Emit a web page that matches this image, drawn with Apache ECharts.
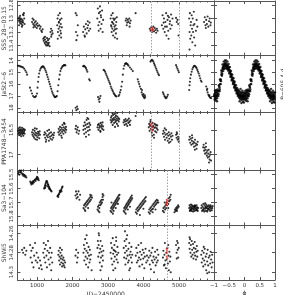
<!DOCTYPE html>
<html><head><meta charset="utf-8">
<script src="https://cdn.jsdelivr.net/npm/echarts@6/dist/echarts.min.js"></script>
<style>html,body{margin:0;padding:0;background:#fff}#c{width:283px;height:295px}</style>
</head><body><div id="c"></div>
<script>
const panelNames = ["SSS_28\u221203.15", "JaSt2\u22126", "PPA1748\u22123454", "Sa3\u2212104", "ShWi5"];
const periodLabel = "P=605.4 d";
const xName = "JD\u22122450000";
const phaseName = "\u03d5";
const redLinesA = [4234, 5000];
const redLinesB = [4660];

const p1Time = [[470,13.0],[485,13.03],[500,12.98],[510,13.05],[520,13.02],[530,13.07],[540,13.0],[550,13.04],[560,13.08],[570,13.01],[580,13.05],[590,13.1],[600,13.03],[610,13.06],[620,12.95],[630,12.92],[640,13.0],[650,13.08],[495,13.1],[525,12.96],[575,13.12],[605,12.94],
[860,13.05],[875,13.0],[890,13.08],[905,13.02],[920,13.1],[935,13.06],[950,13.12],[965,13.04],[980,13.09],[995,13.14],[1010,13.07],[1025,13.11],[900,13.13],
[1060,13.1],[1080,13.15],[1100,13.12],[1120,13.18],[1140,13.2],[1160,13.16],
[1175,13.3],[1190,13.33],[1200,13.28],[1215,13.36],[1225,13.31],[1240,13.38],[1250,13.34],[1260,13.4],[1275,13.35],[1285,13.29],[1300,13.37],[1310,13.32],[1320,13.39],[1335,13.36],[1345,13.3],[1355,13.41],[1230,13.27],[1290,13.4],
[1380,13.2],[1395,13.15],[1410,13.24],[1425,13.18],[1440,13.22],[1400,13.27],
[1570,13.1],[1580,13.0],[1590,13.2],[1600,12.95],[1610,13.15],[1620,13.05],[1630,13.25],[1640,13.12],[1650,13.02],[1660,13.18],[1670,13.08],[1680,13.28],[1690,13.0],[1700,13.13],[1585,13.3],[1645,12.92],[1675,13.22],[1615,13.06],
[2090,12.92],[2120,12.95],[2100,13.2],[2140,13.25],[2110,13.32],[2150,13.1],
[2300,13.2],[2320,13.12],[2340,13.25],[2360,13.16],[2380,13.08],[2400,13.22],[2420,13.14],[2440,13.1],[2460,13.18],[2480,13.06],[2500,13.15],[2350,13.27],[2430,13.04],
[2700,13.0],[2715,12.85],[2730,13.1],[2745,12.92],[2760,13.05],[2775,12.82],[2790,13.15],[2805,12.98],[2820,13.08],[2835,12.88],[2850,13.2],[2865,13.02],[2740,13.18],[2800,12.95],[2780,12.9],
[3075,13.0],[3085,13.1],[3095,12.95],[3105,13.2],[3115,13.05],[3125,13.15],[3135,12.92],[3145,13.25],[3155,13.08],[3165,13.18],[3175,13.02],[3185,13.12],[3195,13.28],[3205,13.0],[3215,13.1],[3225,13.22],[3235,13.05],[3245,13.15],[3260,13.3],[3100,13.12],[3150,13.0],[3200,13.16],[3250,12.98],[3130,13.06],
[3500,13.03],[3520,13.0],[3540,13.06],[3560,13.02],[3580,13.05],[3600,13.0],[3620,13.07],[3640,13.03],[3530,13.1],[3610,13.12],
[3780,12.92],
[4180,13.15],[4200,13.18],[4220,13.13],[4240,13.2],[4260,13.16],[4280,13.12],[4300,13.19],[4320,13.14],[4340,13.17],[4360,13.21],[4380,13.15],[4400,13.18],
[4520,13.1],[4540,12.95],[4560,13.15],[4580,13.0],[4600,13.2],[4620,13.05],[4640,12.92],[4660,13.12],[4680,13.02],[4700,13.18],[4720,12.98],[4740,13.08],[4760,13.15],[4780,12.94],[4800,13.1],[4820,13.0],[4570,13.06],[4650,13.25],[4710,13.3],[4610,13.12],[4750,13.04],[4690,12.96],
[4920,12.99],[4940,13.05],[4960,13.02],[4980,13.08],[4990,13.25],
[5290,13.0],[5300,13.2],[5310,12.92],[5320,13.3],[5330,13.1],[5340,13.05],[5350,13.25],[5360,12.95],[5370,13.15],[5380,13.35],[5390,13.0],[5400,13.2],[5410,13.1],[5420,12.9],[5430,13.28],[5440,13.08],[5460,13.4],[5480,13.18],[5500,13.02],[5520,13.12],[5300,13.46],
[5710,13.05],[5730,12.98],[5750,13.1],[5770,13.02],[5790,13.08],[5810,12.97],[5830,13.12],[5850,13.04],[5870,13.0],[5890,13.1],[5900,13.06],[5760,13.14]];
const p1Red = [[4215,13.16],[4232,13.18],[4248,13.14],[4262,13.17]];

const p2Time = [[461,14.45],[490,14.45],[520,14.5],[550,14.52],[580,14.55],[610,14.6],[640,14.7],[670,14.85],[700,15.0],[720,15.2],
[800,16.3],[830,16.55],[860,16.8],[890,17.0],[920,17.1],[950,17.1],[975,17.0],[1000,16.8],[1015,16.3],[1030,15.8],[1045,15.4],[1060,15.1],[1080,14.85],[1100,14.7],[1120,14.6],[1140,14.55],[1160,14.5],[1180,14.52],[1200,14.6],[1220,14.7],[1240,14.85],[1260,15.0],[1280,15.2],[1300,15.4],[1320,15.6],[1340,15.8],[1360,16.0],[1380,16.2],[1400,16.4],[1420,16.6],[1440,16.75],[1460,16.9],[1480,17.0],[1500,17.1],[1520,17.1],[1540,17.05],
[1560,17.0],[1580,16.6],[1600,16.1],[1620,15.6],[1640,15.2],[1660,14.9],[1680,14.7],[1700,14.6],[1720,14.5],[1740,14.45],[1760,14.4],[1780,14.4],[1800,14.42],
[2090,18.0],[2110,18.2],[2130,17.9],[2150,18.1],
[2300,14.5],[2320,14.45],[2340,14.5],[2360,14.55],[2380,14.65],[2400,14.8],[2420,14.95],[2470,15.6],[2490,15.7],
[2720,17.1],[2740,17.3],[2760,17.5],[2770,17.2],[2790,17.0],
[2880,14.8],[2900,14.85],[2920,14.95],[2940,15.1],[2960,15.25],[2980,15.4],[3000,15.55],[3020,15.7],[3040,15.85],[3060,16.0],[3080,16.2],[3100,16.35],[3120,16.5],[3140,16.6],[3160,16.75],[3180,16.85],[3200,16.95],[3220,17.0],[3240,17.05],
[3300,17.0],[3320,16.9],[3340,16.7],[3360,16.5],[3380,16.2],[3400,15.8],[3420,15.2],[3440,14.7],[3460,14.45],[3480,14.3],[3500,14.25],[3520,14.25],[3540,14.3],[3560,14.35],[3580,14.45],[3620,14.6],[3660,14.75],[3700,14.9],
[3840,15.6],[3860,15.8],[3880,16.0],[3900,16.2],
[3930,16.4],[3950,16.7],[3970,16.9],[3990,17.0],[4010,17.1],[4030,17.2],[4050,17.1],[3960,16.5],[4000,16.85],[4040,16.95],
[4200,14.1],[4220,14.0],[4240,13.95],[4260,14.0],[4280,14.1],[4300,14.25],[4320,14.4],[4340,14.55],[4360,14.7],[4380,14.85],[4400,15.0],[4420,15.15],[4440,15.25],
[4550,16.7],[4570,16.85],[4590,17.0],[4610,17.1],[4630,17.2],[4650,17.15],[4670,17.05],[4690,16.9],
[4920,14.4],[4940,14.55],[4960,14.7],[4980,14.85],[5000,15.0],
[5290,16.5],[5300,16.1],[5310,15.8],[5320,15.5],[5340,15.2],[5360,14.95],[5380,14.75],[5400,14.6],[5420,14.5],[5440,14.45],[5460,14.5],[5480,14.55],[5500,14.65],[5520,14.8],[5540,14.95],[5560,15.1],[5580,15.3],[5600,15.5],[5620,15.7],[5640,15.8],
[5770,16.2],[5790,16.5],[5810,16.7],[5830,16.9],[5850,17.0],[5870,17.1],[5890,17.15],[5910,17.2],[5800,16.4],[5860,16.95]];

// one folded cycle (phase -1..0); drawn twice (phase and phase+1)
const p2PhaseCycle = [[-1.0,17.0],[-0.97,17.0],[-0.94,16.95],[-0.91,16.9],[-0.88,16.8],[-0.85,16.6],[-0.82,16.3],[-0.8,16.0],[-0.78,15.6],[-0.76,15.2],[-0.74,14.9],[-0.72,14.7],[-0.7,14.55],[-0.68,14.45],[-0.66,14.4],[-0.64,14.35],[-0.62,14.35],[-0.6,14.4],[-0.58,14.45],[-0.56,14.5],[-0.54,14.6],[-0.52,14.7],[-0.5,14.8],[-0.48,14.95],[-0.46,15.1],[-0.44,15.25],[-0.42,15.4],[-0.4,15.55],[-0.38,15.7],[-0.36,15.85],[-0.34,16.0],[-0.32,16.15],[-0.3,16.3],[-0.28,16.45],[-0.26,16.55],[-0.24,16.65],[-0.22,16.75],[-0.2,16.85],[-0.18,16.9],[-0.16,16.95],[-0.14,17.0],[-0.12,17.0],[-0.1,17.05],[-0.08,17.05],[-0.06,17.05],[-0.04,17.0],[-0.02,17.0],
[-0.99,16.85],[-0.95,16.8],[-0.91,16.7],[-0.87,16.55],[-0.83,16.2],[-0.79,15.7],[-0.75,15.05],[-0.71,14.6],[-0.67,14.3],[-0.63,14.2],[-0.59,14.25],[-0.55,14.4],[-0.51,14.6],[-0.47,14.85],[-0.43,15.15],[-0.39,15.45],[-0.35,15.75],[-0.31,16.05],[-0.27,16.3],[-0.23,16.5],[-0.19,16.65],[-0.15,16.8],[-0.11,16.85],[-0.07,16.9],[-0.03,16.85],
[-0.97,17.15],[-0.93,17.1],[-0.89,17.0],[-0.85,16.85],[-0.81,16.45],[-0.77,15.75],[-0.73,15.15],[-0.69,14.75],[-0.65,14.55],[-0.61,14.5],[-0.57,14.6],[-0.53,14.75],[-0.49,15.0],[-0.45,15.3],[-0.41,15.6],[-0.37,15.9],[-0.33,16.2],[-0.29,16.45],[-0.25,16.7],[-0.21,16.9],[-0.17,17.05],[-0.13,17.15],[-0.09,17.2],[-0.05,17.2],[-0.01,17.15],
[-0.96,16.7],[-0.92,16.6],[-0.88,16.45],[-0.84,16.1],[-0.8,15.6],[-0.76,14.85],[-0.72,14.35],[-0.68,14.1],[-0.64,14.0],[-0.6,14.0],[-0.56,14.1],[-0.52,14.3],[-0.48,14.55],[-0.44,14.9],[-0.4,15.2],[-0.36,15.5],[-0.32,15.8],[-0.28,16.1],[-0.24,16.35],[-0.2,16.5],[-0.16,16.6],[-0.12,16.7],[-0.08,16.72],[-0.04,16.7],[0.0,16.7],
[-0.98,17.3],[-0.94,17.25],[-0.9,17.2],[-0.86,17.0],[-0.82,16.6],[-0.78,16.0],[-0.74,15.3],[-0.7,14.9],[-0.66,14.7],[-0.62,14.65],[-0.58,14.7],[-0.54,14.85],[-0.5,15.1],[-0.46,15.4],[-0.42,15.7],[-0.38,16.0],[-0.34,16.3],[-0.3,16.55],[-0.26,16.8],[-0.22,17.0],[-0.18,17.15],[-0.14,17.25],[-0.1,17.35],[-0.06,17.3],[-0.02,17.3],
[-0.1,17.6],[-0.05,17.5],[-0.9,17.45],[-0.93,16.5],[-0.13,16.4],[-0.95,17.4],[-0.16,17.45],[-0.07,16.55],[-0.97,16.55],[-0.02,17.55]];

const p3Time = [[465,16.52],[475,16.58],[482,16.47],[490,16.55],[497,16.61],[503,16.5],[510,16.56],[518,16.45],[525,16.6],[532,16.53],[540,16.49],[548,16.57],[555,16.63],[562,16.51],[570,16.55],[578,16.46],[585,16.59],[592,16.53],[600,16.5],[608,16.57],[615,16.62],[622,16.48],[630,16.55],[640,16.52],[650,16.58],[658,16.5],
[860,16.55],[872,16.6],[884,16.5],[896,16.63],[908,16.57],[920,16.66],[932,16.52],[944,16.6],[956,16.69],[968,16.56],[980,16.62],[992,16.48],[1004,16.58],[1016,16.65],[1028,16.54],[1040,16.61],[1052,16.57],[1064,16.67],[1076,16.53],[1085,16.6],[940,16.47],[1000,16.7],
[1200,16.6],[1215,16.55],[1230,16.66],[1245,16.58],[1260,16.7],[1275,16.62],[1290,16.52],[1305,16.65],[1320,16.6],[1335,16.72],[1350,16.57],[1365,16.64],[1380,16.68],[1395,16.55],[1410,16.62],[1425,16.7],[1440,16.59],[1455,16.66],[1470,16.61],[1482,16.56],[1250,16.74],[1340,16.5],
[1600,16.55],[1612,16.48],[1624,16.6],[1636,16.52],[1648,16.44],[1660,16.57],[1672,16.5],[1684,16.62],[1696,16.46],[1708,16.54],[1720,16.4],[1732,16.5],[1744,16.58],[1756,16.45],[1768,16.52],[1780,16.38],[1792,16.48],[1804,16.55],[1816,16.44],[1823,16.5],[1700,16.66],[1760,16.36],
[2085,16.48],[2100,16.42],[2115,16.55],[2130,16.5],[2150,16.45],[2170,16.58],[2190,16.52],
[2305,16.5],[2318,16.42],[2331,16.58],[2344,16.35],[2357,16.48],[2370,16.4],[2383,16.55],[2396,16.3],[2409,16.45],[2422,16.38],[2435,16.52],[2448,16.28],[2461,16.44],[2474,16.36],[2487,16.5],[2500,16.4],[2380,16.64],[2420,16.26],[2460,16.6],
[2705,16.45],[2718,16.4],[2731,16.5],[2744,16.38],[2757,16.46],[2770,16.42],[2783,16.52],[2796,16.36],[2809,16.44],[2822,16.4],[2835,16.48],[2848,16.35],[2861,16.43],[2873,16.5],[2790,16.54],
[3075,16.3],[3085,16.25],[3095,16.35],[3105,16.22],[3115,16.32],[3125,16.28],[3135,16.4],[3145,16.2],[3155,16.3],[3165,16.26],[3175,16.36],[3185,16.18],[3195,16.29],[3205,16.24],[3215,16.34],[3225,16.21],[3235,16.31],[3245,16.27],[3255,16.38],[3265,16.23],[3275,16.3],[3285,16.42],[3295,16.26],[3305,16.33],[3320,16.28],[3130,16.17],[3200,16.44],[3260,16.16],
[3440,16.35],[3455,16.3],[3470,16.4],[3485,16.33],[3500,16.28],[3515,16.38],[3530,16.32],[3545,16.42],[3560,16.3],[3575,16.36],[3590,16.27],[3605,16.34],[3620,16.4],[3635,16.31],
[3780,16.22],
[4150,16.45],[4162,16.38],[4174,16.52],[4186,16.42],[4198,16.34],[4210,16.48],[4222,16.4],[4234,16.56],[4246,16.44],[4258,16.36],[4270,16.5],[4282,16.42],[4294,16.6],[4306,16.46],[4318,16.38],[4330,16.53],[4342,16.45],[4354,16.4],[4366,16.55],[4378,16.47],[4390,16.41],[4402,16.5],[4200,16.3],[4300,16.66],[4250,16.62],
[4550,16.58],[4565,16.52],[4580,16.64],[4595,16.56],[4610,16.7],[4625,16.6],[4640,16.5],[4655,16.66],[4670,16.58],[4685,16.72],[4700,16.62],[4715,16.55],[4730,16.68],[4745,16.6],[4760,16.74],[4775,16.64],[4790,16.57],[4805,16.7],[4820,16.62],[4600,16.47],[4720,16.76],
[4920,16.6],[4935,16.66],[4950,16.58],[4965,16.7],[4980,16.64],[4995,16.74],[4940,16.55],[4990,16.68],
[5290,16.7],[5305,16.64],[5320,16.76],[5335,16.68],[5350,16.8],[5365,16.72],[5380,16.66],[5395,16.78],[5410,16.74],[5425,16.84],[5440,16.76],[5455,16.7],[5470,16.82],[5485,16.78],[5500,16.88],[5515,16.8],[5530,16.74],[5370,16.61],[5450,16.9],
[5685,16.85],[5698,16.8],[5711,16.92],[5724,16.86],[5737,16.98],[5750,16.9],[5763,16.84],[5776,16.96],[5789,17.02],[5802,16.92],[5815,17.06],[5828,16.98],[5841,16.9],[5854,17.04],[5867,17.1],[5880,17.0],[5893,16.95],[5906,17.12],[5760,16.77],[5850,17.16]];
const p3Red = [[4215,16.4],[4225,16.48],[4238,16.44],[4245,16.52],[4230,16.37]];

const p4Time = [[470,15.49],[485,15.48],[500,15.5],[515,15.47],[530,15.485],[545,15.48],[560,15.47],[575,15.49],[590,15.5],[605,15.495],[620,15.51],[635,15.5],[650,15.505],[665,15.515],[680,15.51],[700,15.52],
[810,15.55],[825,15.56],[840,15.57],[855,15.555],[870,15.56],[885,15.55],[900,15.545],[915,15.555],[930,15.54],[945,15.535],[960,15.545],[975,15.53],[990,15.525],[1005,15.535],[1020,15.52],[1035,15.53],[1050,15.54],[880,15.565],[1000,15.515],
[1200,15.6],[1212,15.59],[1224,15.58],[1236,15.57],[1248,15.56],[1260,15.55],[1272,15.545],[1284,15.55],[1296,15.56],[1308,15.57],[1320,15.575],[1332,15.585],[1344,15.59],[1356,15.6],[1368,15.605],[1380,15.61],[1395,15.615],[1410,15.62],[1250,15.58],[1300,15.585],[1340,15.6],[1230,15.595],
[1575,15.655],[1590,15.65],[1605,15.645],[1620,15.64],[1635,15.63],[1650,15.625],[1665,15.615],[1680,15.61],[1695,15.6],[1710,15.59],[1720,15.585],[1600,15.66],[1640,15.615],[1690,15.62],
[2085,15.65],[2100,15.62],[2115,15.67],[2130,15.64],[2150,15.66],[2170,15.62],[2195,15.68],[2215,15.645],
[2310,15.74],[2325,15.72],[2340,15.75],[2355,15.71],[2370,15.73],[2385,15.7],[2400,15.72],[2415,15.69],[2430,15.71],[2445,15.68],[2460,15.7],[2475,15.67],[2490,15.69],[2505,15.66],[2520,15.68],[2535,15.65],[2550,15.665],[2360,15.76],[2440,15.74],[2500,15.645],
[2705,15.75],[2718,15.73],[2731,15.76],[2744,15.72],[2757,15.74],[2770,15.7],[2783,15.72],[2796,15.69],[2809,15.71],[2822,15.68],[2835,15.7],[2848,15.66],[2861,15.68],[2873,15.65],[2760,15.77],[2850,15.64],
[3075,15.76],[3087,15.74],[3099,15.77],[3111,15.73],[3123,15.75],[3135,15.72],[3147,15.74],[3159,15.71],[3171,15.73],[3183,15.7],[3195,15.72],[3207,15.69],[3219,15.71],[3231,15.68],[3243,15.7],[3255,15.67],[3267,15.69],[3279,15.66],[3291,15.68],[3303,15.65],[3315,15.67],[3327,15.645],[3100,15.7],[3160,15.76],[3220,15.74],[3280,15.71],[3140,15.78],
[3445,15.76],[3457,15.74],[3469,15.77],[3481,15.73],[3493,15.75],[3505,15.72],[3517,15.74],[3529,15.71],[3541,15.73],[3553,15.7],[3565,15.72],[3577,15.69],[3589,15.71],[3601,15.68],[3613,15.7],[3625,15.67],[3637,15.69],[3649,15.66],[3661,15.68],[3673,15.65],[3685,15.67],[3500,15.78],[3560,15.75],[3620,15.73],
[3785,15.77],[3800,15.75],[3815,15.78],[3830,15.74],[3845,15.76],[3860,15.73],[3875,15.75],[3890,15.72],[3905,15.74],[3920,15.71],[3935,15.73],[3950,15.7],[3965,15.72],[3980,15.69],[3995,15.71],[4010,15.68],[4025,15.7],[4040,15.67],[4055,15.69],[4070,15.66],[3900,15.79],[4000,15.745],
[4150,15.77],[4165,15.75],[4180,15.78],[4195,15.74],[4210,15.76],[4225,15.73],[4240,15.75],[4255,15.72],[4270,15.745],[4285,15.71],[4300,15.73],[4315,15.7],[4330,15.72],[4345,15.69],[4360,15.71],[4375,15.68],[4390,15.7],[4405,15.685],[4420,15.7],[4260,15.77],[4340,15.75],
[4550,15.76],[4565,15.74],[4580,15.77],[4595,15.73],[4610,15.75],[4625,15.72],[4640,15.74],[4655,15.7],[4670,15.72],[4685,15.69],[4700,15.71],[4715,15.67],[4730,15.69],[4745,15.66],[4760,15.68],[4770,15.645],[4600,15.7],[4700,15.74],
[4875,15.77],[4890,15.75],[4905,15.76],[4920,15.74],[4935,15.75],[4950,15.73],[4965,15.74],[4980,15.72],[4995,15.73],[4945,15.76],
[5290,15.74],[5300,15.72],[5310,15.76],[5320,15.73],[5330,15.75],[5340,15.715],[5350,15.74],[5360,15.76],[5370,15.72],[5380,15.745],[5390,15.73],[5400,15.765],[5410,15.725],[5420,15.75],[5430,15.735],[5440,15.76],[5450,15.72],[5460,15.745],[5470,15.73],[5480,15.755],[5490,15.74],[5500,15.72],[5510,15.75],[5520,15.735],[5530,15.76],[5545,15.74],[5320,15.755],[5360,15.735],[5410,15.745],[5460,15.725],[5500,15.755],[5340,15.75],[5440,15.73],
[5630,15.74],[5642,15.72],[5654,15.76],[5666,15.73],[5678,15.75],[5690,15.71],[5702,15.74],[5714,15.765],[5726,15.72],[5738,15.745],[5750,15.73],[5762,15.76],[5774,15.715],[5786,15.74],[5798,15.725],[5810,15.755],[5822,15.73],[5834,15.745],[5846,15.72],[5858,15.75],[5870,15.735],[5882,15.76],[5894,15.72],[5906,15.745],[5918,15.73],[5930,15.755],[5942,15.74],[5954,15.725],[5700,15.755],[5760,15.735],[5820,15.745],[5880,15.73],[5740,15.705],[5800,15.765]];
const p4Red = [[4640,15.71],[4655,15.7],[4665,15.72],[4675,15.69],[4660,15.68]];

const p5Time = [[580,14.277],[610,14.28],[640,14.275],[670,14.282],[700,14.278],
[805,14.272],[820,14.285],[840,14.278],[860,14.29],[880,14.275],[900,14.295],[920,14.283],[945,14.27],[965,14.288],[990,14.28],
[1010,14.29],[1035,14.285],[1060,14.296],[1085,14.288],[1110,14.293],[1135,14.297],
[1175,14.28],[1190,14.27],[1205,14.285],[1220,14.276],[1235,14.29],[1250,14.272],[1265,14.283],[1280,14.295],[1295,14.278],[1310,14.268],[1325,14.287],[1340,14.28],[1355,14.292],[1370,14.275],[1385,14.285],[1400,14.298],[1415,14.28],[1430,14.29],
[1600,14.282],[1612,14.278],[1624,14.288],[1636,14.284],[1648,14.292],[1660,14.28],[1672,14.286],[1684,14.29],[1696,14.283],[1708,14.294],[1720,14.287],[1732,14.291],[1744,14.285],[1756,14.293],[1768,14.288],[1780,14.295],[1792,14.29],[1650,14.275],[1700,14.277],
[2085,14.283],[2105,14.277],[2125,14.29],[2145,14.285],[2160,14.28],
[2310,14.28],[2322,14.272],[2334,14.288],[2346,14.276],[2358,14.266],[2370,14.284],[2382,14.292],[2394,14.278],[2406,14.27],[2418,14.286],[2430,14.28],[2442,14.295],[2454,14.274],[2466,14.283],[2478,14.29],[2490,14.277],[2502,14.287],[2520,14.282],[2540,14.298],[2400,14.262],
[2705,14.275],[2716,14.268],[2727,14.284],[2738,14.272],[2749,14.262],[2760,14.28],[2771,14.29],[2782,14.276],[2793,14.268],[2804,14.285],[2815,14.279],[2826,14.294],[2837,14.273],[2848,14.283],[2859,14.288],[2870,14.278],[2790,14.298],[2740,14.26],
[3075,14.28],[3087,14.27],[3099,14.286],[3111,14.275],[3123,14.292],[3135,14.265],[3147,14.281],[3159,14.277],[3171,14.289],[3183,14.272],[3195,14.284],[3207,14.296],[3219,14.279],[3231,14.268],[3243,14.287],[3255,14.282],[3267,14.274],[3279,14.29],[3291,14.28],[3150,14.298],[3230,14.264],[3190,14.278],
[3445,14.275],[3457,14.285],[3469,14.268],[3481,14.28],[3493,14.292],[3505,14.273],[3517,14.286],[3529,14.278],[3541,14.262],[3553,14.283],[3565,14.29],[3577,14.276],[3589,14.288],[3601,14.27],[3613,14.282],[3625,14.296],[3637,14.279],[3649,14.285],[3661,14.274],[3673,14.29],[3685,14.282],[3480,14.258],[3600,14.298],[3520,14.266],
[3785,14.283],[3800,14.275],[3815,14.29],[3830,14.28],[3845,14.288],[3860,14.272],[3875,14.285],[3890,14.294],[3905,14.279],[3920,14.287],[3935,14.27],[3950,14.282],[3965,14.292],[3980,14.277],[3995,14.286],[4010,14.28],[4025,14.296],[4040,14.284],[4060,14.276],[4080,14.29],[4100,14.283],[4115,14.288],
[4150,14.285],[4165,14.278],[4180,14.292],[4195,14.283],[4210,14.297],[4225,14.28],[4240,14.288],[4255,14.275],[4270,14.29],[4285,14.284],[4300,14.3],[4315,14.287],[4330,14.279],[4345,14.293],[4360,14.285],[4375,14.29],[4390,14.277],[4405,14.288],[4420,14.282],
[4550,14.285],[4564,14.278],[4578,14.293],[4592,14.282],[4606,14.27],[4620,14.288],[4634,14.296],[4648,14.28],[4662,14.287],[4676,14.275],[4690,14.291],[4704,14.283],[4718,14.298],[4732,14.279],[4746,14.289],[4760,14.284],[4770,14.3],[4600,14.292],[4700,14.272],
[4920,14.272],[4935,14.28],[4950,14.268],[4965,14.277],[4980,14.285],[4995,14.275],[4940,14.286],[4970,14.27],
[5290,14.27],[5302,14.276],[5314,14.266],[5326,14.28],[5338,14.272],[5350,14.284],[5362,14.268],[5374,14.277],[5386,14.282],[5398,14.271],[5410,14.286],[5422,14.275],[5434,14.28],[5446,14.269],[5458,14.283],[5470,14.276],[5482,14.287],[5494,14.279],[5506,14.273],[5518,14.284],[5530,14.278],[5300,14.264],
[5630,14.282],[5644,14.29],[5658,14.278],[5672,14.286],[5686,14.294],[5700,14.28],[5714,14.288],[5728,14.276],[5742,14.292],[5756,14.284],[5770,14.298],[5784,14.281],[5798,14.289],[5812,14.277],[5826,14.293],[5840,14.285],[5854,14.3],[5868,14.283],[5882,14.291],[5896,14.279],[5910,14.287],[5924,14.295],[5938,14.282],[5950,14.29],[5800,14.301],[5700,14.274]];
const p5Red = [[4650,14.28],[4660,14.284],[4668,14.278],[4675,14.286],[4655,14.276]];

const magRanges = [[12.74,13.55,5],[13.6,18.4,5],[16.15,17.32,2],[15.47,15.865,5],[14.252,14.308,3]];
const jdRange = [450, 5990];

const chart = echarts.init(document.getElementById('c'), null, {renderer:'canvas'});
const FONT = 'DejaVu Sans';
const TXT = '#333';
const LINE = '#555';
const leftL = 17.5, leftW = 196.5, rightL = 214, rightW = 61;
const edges = [1, 55.7, 112.5, 170.5, 225.5, 280];
const grids = [], xAxes = [], yAxes = [], series = [];
const minus = v => String(v).replace('-', '\u2212');

for (let i = 0; i < 5; i++) {
  const top = edges[i], h = edges[i+1] - edges[i];
  const last = i === 4;
  [[leftL, leftW], [rightL, rightW]].forEach(([l, w], side) => {
    const g = grids.length;
    grids.push({left: l, top: top, width: w, height: h, show: false, containLabel: false, outerBoundsMode: 'none'});
    const isPhase = side === 1;
    const xBase = {
      type: 'value', gridIndex: g,
      min: isPhase ? -1 : jdRange[0], max: isPhase ? 1 : jdRange[1],
      splitLine: {show: false},
      axisLine: {show: true, onZero: false, lineStyle: {color: LINE, width: 1}},
      axisTick: {show: true, inside: true, length: 3, lineStyle: {color: LINE}},
      minorTick: {show: !isPhase, splitNumber: 5, length: 1.5, lineStyle: {color: LINE}},
      nameMoveOverlap: false
    };
    if (isPhase) xBase.interval = 0.5; else xBase.splitNumber = 5;
    xAxes.push(Object.assign({}, xBase, {
      position: 'bottom',
      axisLabel: {show: last, fontSize: 5.5, fontFamily: FONT, color: TXT, margin: 3,
        showMinLabel: isPhase, showMaxLabel: isPhase, formatter: minus},
      name: last ? (isPhase ? phaseName : xName) : '',
      nameLocation: 'middle', nameGap: isPhase ? 10 : 11,
      nameTextStyle: {fontSize: 6, fontFamily: FONT, color: TXT, padding: isPhase ? 0 : [0, 20, 0, 0]}
    }));
    xAxes.push(Object.assign({}, xBase, {position: 'top', axisLabel: {show: false}}));
    const [mn, mx, sn] = magRanges[i];
    const yBase = {
      type: 'value', gridIndex: g, inverse: true, min: mn, max: mx, splitNumber: sn,
      splitLine: {show: false},
      axisLine: {show: true, onZero: false, lineStyle: {color: LINE, width: 1}},
      axisTick: {show: true, inside: true, length: 3, lineStyle: {color: LINE}},
      nameMoveOverlap: false
    };
    yAxes.push(Object.assign({}, yBase, {
      position: 'left',
      axisLabel: {show: !isPhase, rotate: 90, fontSize: 5.5, fontFamily: FONT, color: TXT, margin: 3,
        showMinLabel: false, showMaxLabel: false},
      name: isPhase ? '' : panelNames[i], nameLocation: 'middle', nameRotate: 90, nameGap: 10,
      nameTextStyle: {fontSize: 6, fontFamily: FONT, color: TXT}
    }));
    yAxes.push(Object.assign({}, yBase, {
      position: 'right', axisLabel: {show: false},
      name: (isPhase && i === 1) ? periodLabel : '', nameLocation: 'middle', nameRotate: 90, nameGap: 5,
      nameTextStyle: {fontSize: 6, fontFamily: FONT, color: TXT}
    }));
  });
}

function scat(gridIdx, data, color, size, lines) {
  const s = {
    type: 'scatter', xAxisIndex: gridIdx * 2, yAxisIndex: gridIdx * 2, data: data,
    symbol: 'circle', symbolSize: size, itemStyle: {color: color}, silent: true, animation: false
  };
  if (lines) {
    s.markLine = {silent: true, symbol: 'none', label: {show: false}, animation: false,
      lineStyle: {type: [1.5, 1.5], color: '#f08080', width: 1},
      data: lines.map(v => ({xAxis: v}))};
  }
  series.push(s);
}
const timeSets = [p1Time, p2Time, p3Time, p4Time, p5Time];
const redSets = [p1Red, null, p3Red, p4Red, p5Red];
const lineSets = [redLinesA, null, redLinesA, redLinesB, redLinesB];
for (let i = 0; i < 5; i++) {
  scat(i * 2, timeSets[i], '#000', 2.1, lineSets[i]);
  if (redSets[i]) scat(i * 2, redSets[i], '#e02020', 2.1, null);
}
const phaseAll = p2PhaseCycle.concat(p2PhaseCycle.map(p => [p[0] + 1, p[1]]));
scat(3, phaseAll, '#000', 2.4, null);

chart.setOption({animation: false, grid: grids, xAxis: xAxes, yAxis: yAxes, series: series});
</script></body></html>
